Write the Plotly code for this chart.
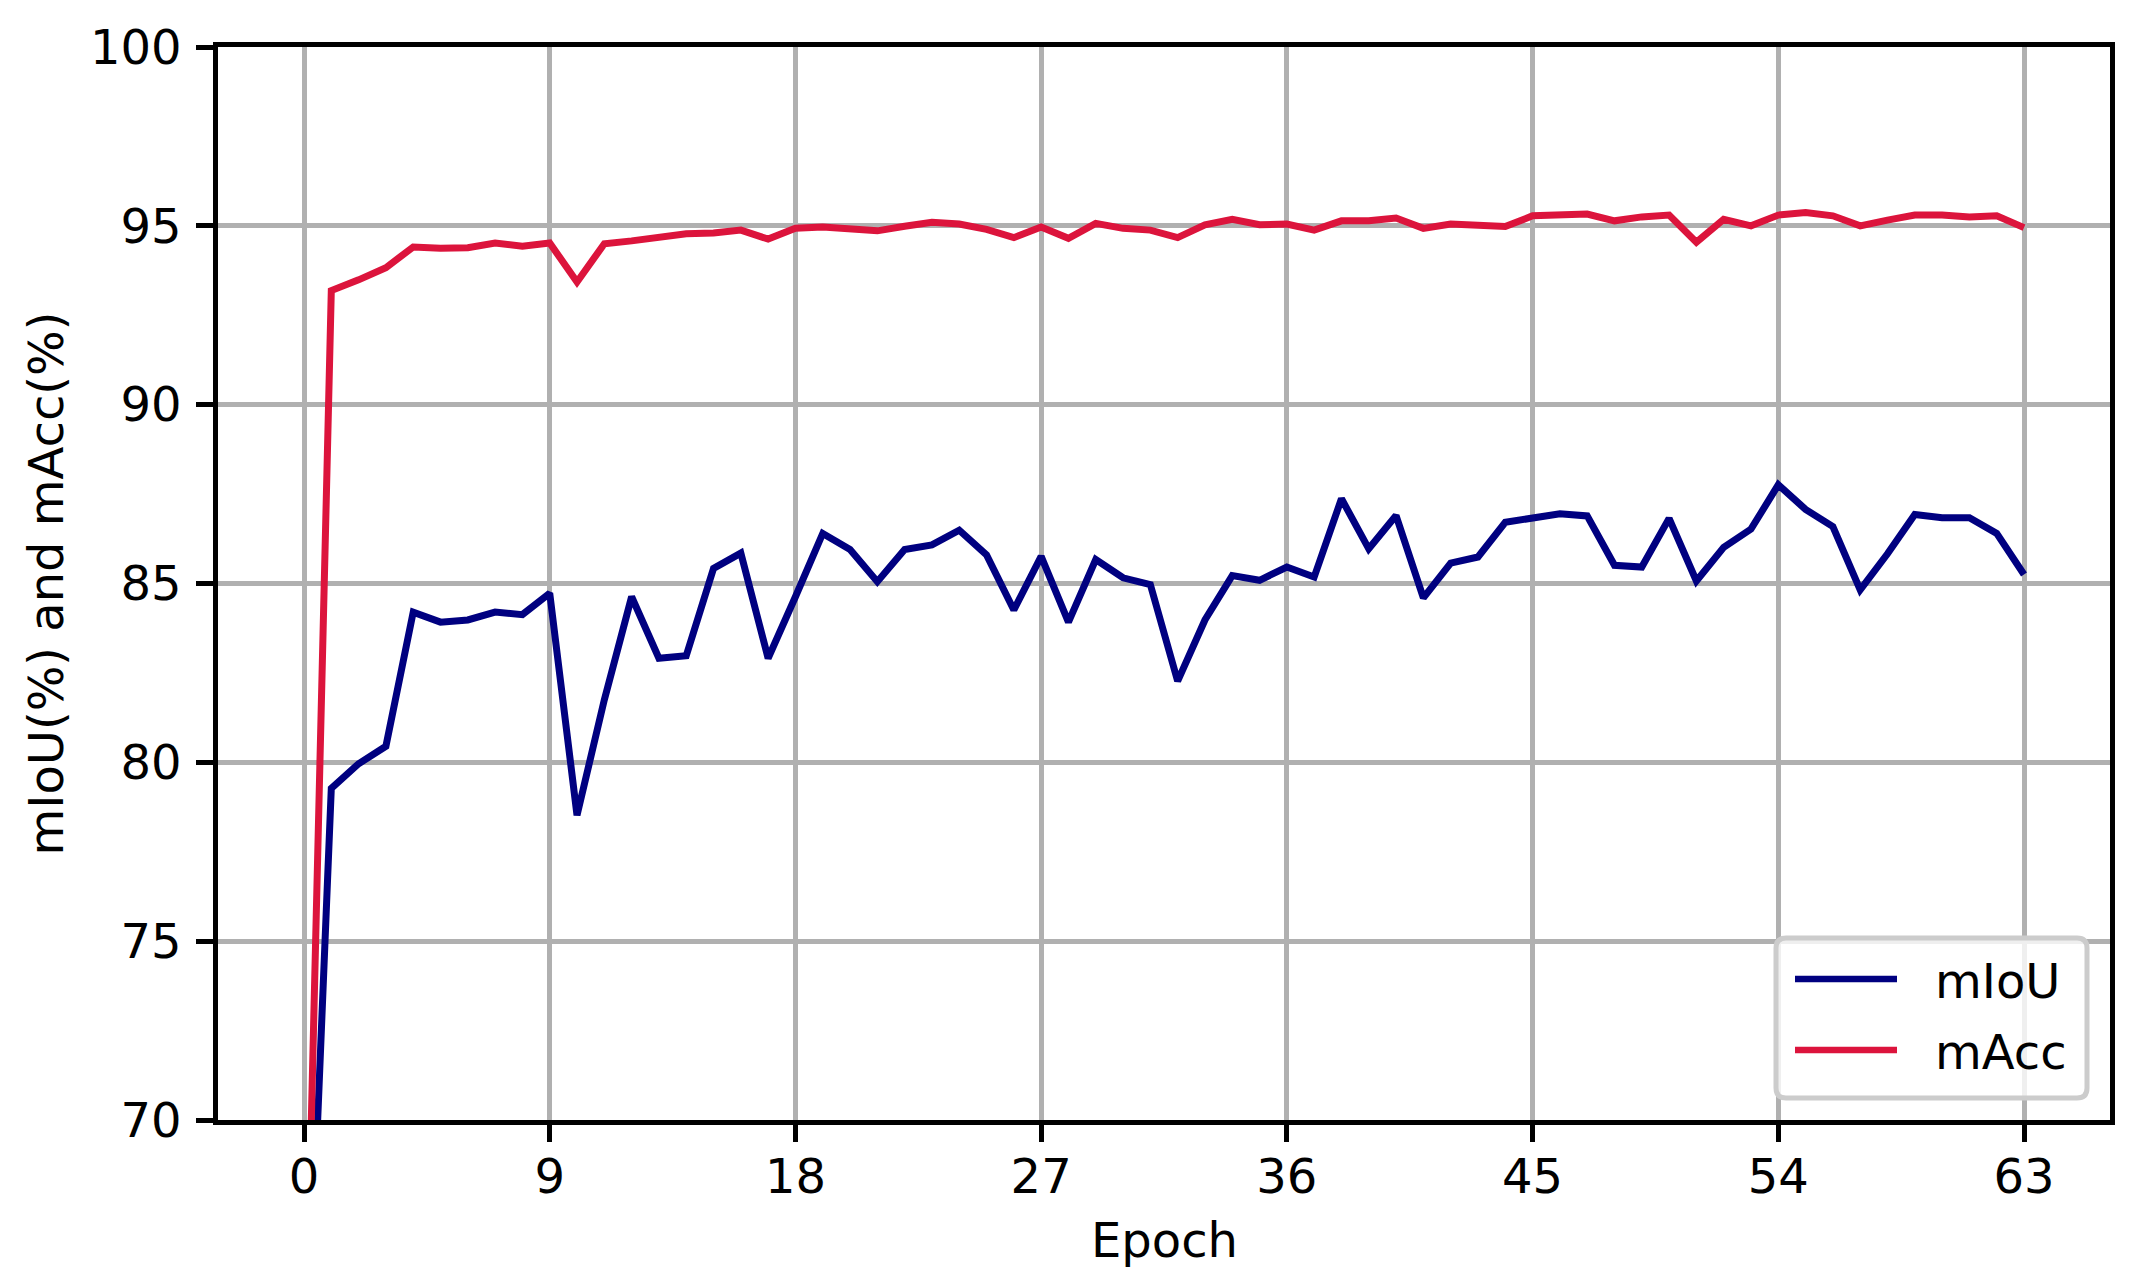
import plotly.graph_objects as go

# epoch index and the two validation curves
epochs = list(range(64))

miou = [
    60.7, 79.27, 79.96, 80.45, 84.20, 83.92, 83.98, 84.20, 84.13, 84.73,
    78.52, 81.75, 84.63, 82.91, 82.98, 85.42, 85.85, 82.91, 84.63, 86.40,
    85.95, 85.05, 85.95, 86.08, 86.49, 85.80, 84.26, 85.76, 83.92, 85.67,
    85.16, 84.97, 82.27, 83.98, 85.22, 85.09, 85.46, 85.18, 87.37, 85.97,
    86.90, 84.60, 85.57, 85.74, 86.71, 86.85, 86.95, 86.89, 85.51, 85.46,
    86.82, 85.07, 86.01, 86.52, 87.76, 87.07, 86.59, 84.82, 85.83, 86.93,
    86.84, 86.84, 86.40, 85.25,
]

macc = [
    61.5, 93.19, 93.49, 93.83, 94.41, 94.37, 94.39, 94.52, 94.43, 94.52,
    93.43, 94.50, 94.58, 94.67, 94.78, 94.80, 94.88, 94.63, 94.93, 94.97,
    94.90, 94.86, 94.99, 95.10, 95.05, 94.90, 94.67, 94.97, 94.65, 95.07,
    94.93, 94.88, 94.67, 95.03, 95.18, 95.03, 95.05, 94.88, 95.14, 95.14,
    95.22, 94.93, 95.05, 95.02, 94.98, 95.28, 95.30, 95.33, 95.14, 95.25,
    95.30, 94.54, 95.18, 95.00, 95.30, 95.37, 95.28, 95.00, 95.16, 95.30,
    95.30, 95.25, 95.28, 94.95,
]

series_names = ['mIoU', 'mAcc']
series_colors = ['#000080', '#DC143C']

x_ticks = [0, 9, 18, 27, 36, 45, 54, 63]
y_ticks = [70, 75, 80, 85, 90, 95, 100]

# figure geometry in pixels (page body has an 8px margin)
W, H = 2146, 1288
OFF = 8
L, R, T, B = 218, 36, 47, 168
PW, PH = W - L - R, H - T - B
FONT = 'DejaVu Sans'
FS = 48


def px(x):
    return (x - L) / PW


def py(y):
    return (H - B - y) / PH


fig = go.Figure()

for name, values, color in zip(series_names, [miou, macc], series_colors):
    fig.add_trace(
        go.Scatter(
            x=epochs,
            y=values,
            mode='lines',
            name=name,
            line=dict(color=color, width=7),
            showlegend=False
        )
    )

axis_common = dict(
    showline=True,
    linecolor='black',
    linewidth=4.5,
    mirror=True,
    ticks='outside',
    ticklen=17,
    tickwidth=4.5,
    tickcolor='black',
    showgrid=True,
    gridcolor='#b0b0b0',
    gridwidth=4.5,
    zeroline=False,
    tickfont=dict(family=FONT, size=FS, color='black'),
)

fig.update_xaxes(range=[-3.15, 66.15], tickvals=x_ticks, ticklabelstandoff=-6, **axis_common)
fig.update_yaxes(range=[70, 100], tickvals=y_ticks, ticklabelstandoff=5, **axis_common)

# matplotlib-style legend box, drawn by hand (lower right)
bx0, bx1, by0, by1, rad = 1776, 2087, 938, 1098, 10
rx, ry = rad / PW, rad / PH
x0, x1, y0, y1 = px(bx0), px(bx1), py(by1), py(by0)
box_path = (
    f'M{x0 + rx},{y0} L{x1 - rx},{y0} Q{x1},{y0} {x1},{y0 + ry} '
    f'L{x1},{y1 - ry} Q{x1},{y1} {x1 - rx},{y1} '
    f'L{x0 + rx},{y1} Q{x0},{y1} {x0},{y1 - ry} '
    f'L{x0},{y0 + ry} Q{x0},{y0} {x0 + rx},{y0} Z'
)
fig.add_shape(
    type='path', path=box_path, xref='paper', yref='paper',
    line=dict(color='#cccccc', width=5), fillcolor='rgba(255,255,255,0.8)',
    layer='above'
)

legend_rows = [979, 1050]
for name, color, row_y in zip(series_names, series_colors, legend_rows):
    fig.add_shape(
        type='line', xref='paper', yref='paper',
        x0=px(1795), x1=px(1897), y0=py(row_y), y1=py(row_y),
        line=dict(color=color, width=6.5), layer='above'
    )
    fig.add_annotation(
        x=px(1933), y=py(row_y + 2), xref='paper', yref='paper',
        text=name, showarrow=False, xanchor='left', yanchor='middle',
        font=dict(family=FONT, size=FS, color='black')
    )

# axis titles
fig.add_annotation(
    x=0.5, y=py(1240), xref='paper', yref='paper', text='Epoch',
    showarrow=False, xanchor='center', yanchor='middle',
    font=dict(family=FONT, size=FS, color='black')
)
fig.add_annotation(
    x=px(45), y=0.5, xref='paper', yref='paper', text='mIoU(%) and mAcc(%)',
    showarrow=False, xanchor='center', yanchor='middle', textangle=-90,
    font=dict(family=FONT, size=FS, color='black')
)

fig.update_layout(
    width=W - OFF,
    height=H - OFF,
    autosize=False,
    margin=dict(l=L - OFF, r=R, t=T - OFF, b=B),
    paper_bgcolor='white',
    plot_bgcolor='white',
    showlegend=False,
)

fig.write_html('out.html')
